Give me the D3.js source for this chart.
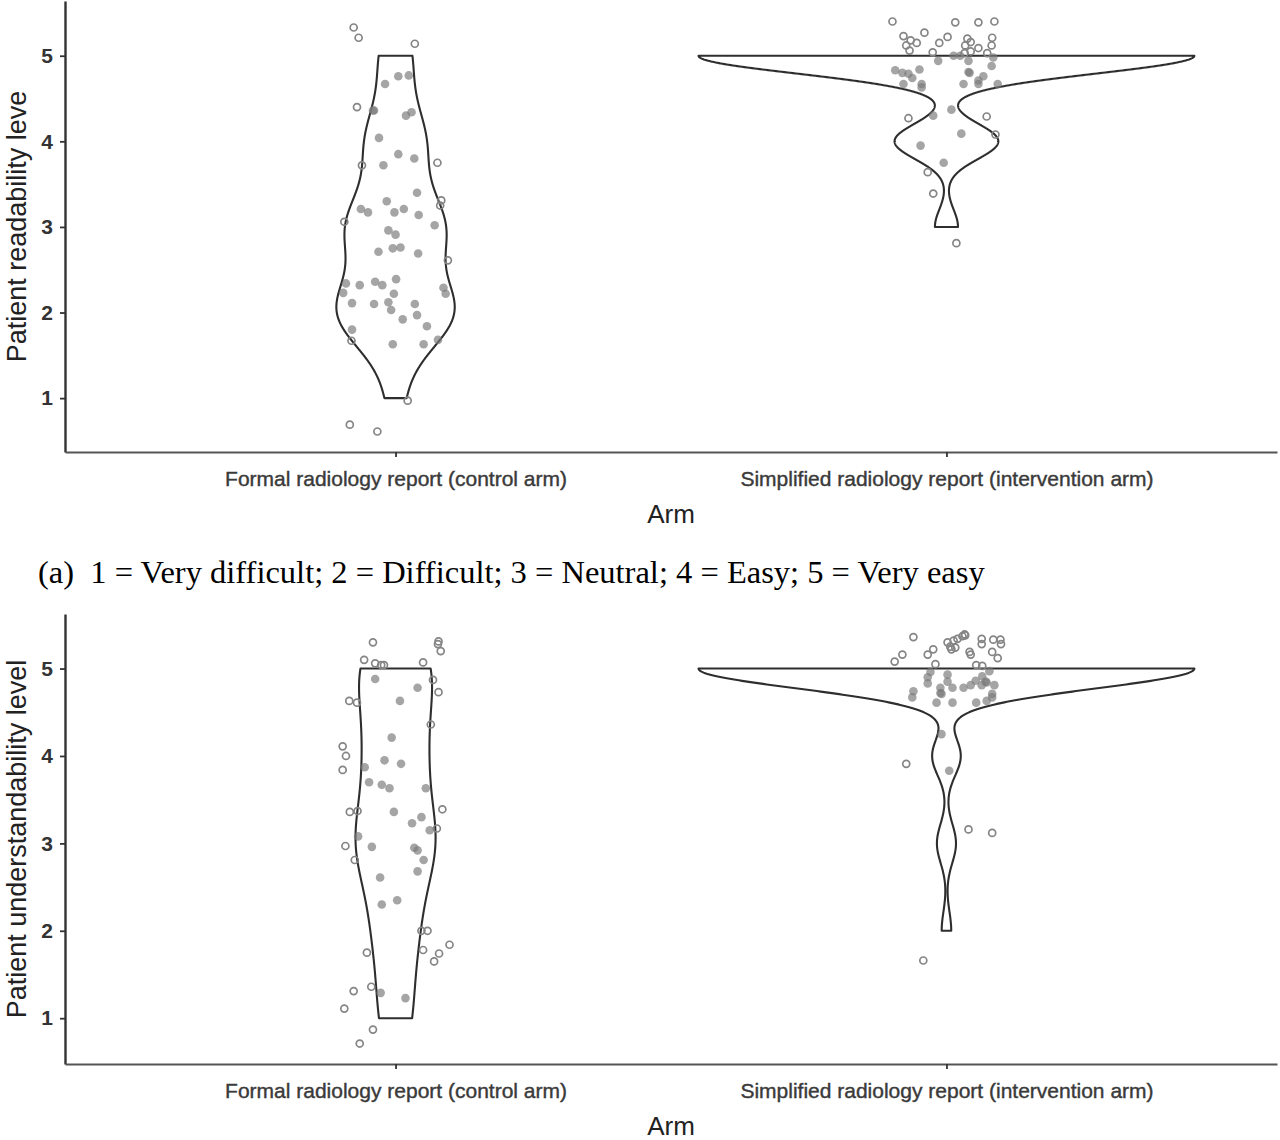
<!DOCTYPE html>
<html>
<head>
<meta charset="utf-8">
<script src="https://cdn.jsdelivr.net/npm/d3@7"></script>
<style>
  html, body { margin: 0; padding: 0; background: #fff; }
  svg { display: block; }
</style>
</head>
<body>
<svg id="chart" width="1280" height="1140"></svg>
<script>
// ---------------- DATA ----------------
const arms = ["Formal radiology report (control arm)", "Simplified radiology report (intervention arm)"];
const yTicks = [1, 2, 3, 4, 5];
const yTitles = ["Patient readability leve", "Patient understandability level"];
const xTitle = "Arm";
const caption = "(a)\u00a0\u00a01 = Very difficult; 2 = Difficult; 3 = Neutral; 4 = Easy; 5 = Very easy";

// Jittered responses (y) and their horizontal jitter (in category units).
// Panel (a) readability, formal report
const readFormalY = [5.33,5.21,5.14,4.67,4.76,4.77,4.40,4.36,4.36,4.30,4.34,4.04,3.85,3.80,3.75,3.72,3.72,3.40,3.31,3.25,3.30,3.21,3.17,3.17,3.21,3.14,3.06,3.02,2.96,2.91,2.75,2.76,2.71,2.69,2.61,2.34,2.36,2.32,2.39,2.32,2.29,2.23,2.22,2.22,2.11,2.10,2.12,2.10,2.03,1.97,1.92,1.84,1.80,1.67,1.63,1.63,1.68,0.97,0.69,0.61];
const readFormalJitter = [-0.076,-0.067,0.035,-0.019,0.005,0.024,-0.070,-0.041,-0.039,0.019,0.029,-0.030,0.005,0.034,0.076,-0.022,-0.061,0.039,0.083,0.081,-0.016,-0.063,-0.050,-0.002,0.015,0.042,-0.093,0.071,-0.013,0.000,-0.005,0.009,-0.031,0.041,0.095,-0.090,-0.037,-0.024,0.001,-0.065,0.087,-0.095,-0.003,0.091,-0.079,-0.039,-0.013,0.035,-0.008,0.039,0.013,0.057,-0.079,-0.080,-0.005,0.051,0.077,0.022,-0.083,-0.033];
// Panel (a) readability, simplified report
const readSimpY = [5.40,5.39,5.39,5.40,5.23,5.27,5.22,5.15,5.18,5.15,5.12,5.06,5.04,5.20,5.16,5.12,5.21,5.12,5.09,5.05,5.03,5.03,5.00,5.00,4.94,4.94,4.98,4.83,4.80,4.79,4.74,4.84,4.81,4.80,4.88,4.76,4.71,4.67,4.67,4.67,4.63,4.67,4.67,4.37,4.30,4.29,4.27,4.09,4.08,3.95,3.75,3.64,3.39,2.81];
const readSimpJitter = [-0.098,0.016,0.058,0.087,-0.078,-0.040,0.002,-0.013,-0.065,-0.054,-0.073,-0.067,-0.025,0.038,0.044,0.034,0.083,0.082,0.058,0.044,0.074,0.033,0.013,0.025,-0.015,0.040,0.085,-0.093,-0.080,-0.069,-0.062,-0.049,0.040,0.042,0.082,0.067,0.058,0.058,-0.078,-0.045,-0.045,0.031,0.093,0.009,-0.024,0.073,-0.069,0.027,0.089,-0.047,-0.005,-0.034,-0.024,0.018];
// Panel (b) understandability, formal report
const underFormalY = [5.30,5.31,5.28,5.20,5.10,5.06,5.04,5.04,5.07,4.88,4.78,4.87,4.73,4.63,4.61,4.63,4.36,4.21,4.11,4.00,3.95,3.91,3.87,3.84,3.70,3.67,3.63,3.63,3.39,3.36,3.37,3.36,3.30,3.23,3.17,3.15,3.08,2.97,2.96,2.95,2.92,2.81,2.81,2.68,2.61,2.30,2.35,2.00,2.00,1.84,1.75,1.78,1.74,1.65,1.36,1.31,1.29,1.23,1.11,0.87,0.71];
const underFormalJitter = [-0.041,0.078,0.077,0.082,-0.057,-0.037,-0.026,-0.021,0.050,-0.037,0.040,0.068,0.078,-0.084,-0.070,0.008,0.064,-0.007,-0.096,-0.090,-0.020,0.010,-0.056,-0.096,-0.048,-0.025,-0.011,0.055,0.085,-0.083,-0.069,-0.003,0.047,0.030,0.075,0.062,-0.068,-0.091,-0.043,0.034,0.040,-0.074,0.051,0.040,-0.028,-0.025,0.003,0.047,0.058,0.098,-0.052,0.050,0.079,0.070,-0.044,-0.076,-0.027,0.018,-0.093,-0.041,-0.065];
// Panel (b) understandability, simplified report
const underSimpY = [5.36,5.16,5.08,5.16,5.22,5.05,5.30,5.25,5.32,5.34,5.37,5.38,5.39,5.22,5.24,5.19,5.16,5.34,5.28,5.33,5.33,5.28,5.19,5.12,5.04,5.03,4.96,4.90,4.83,4.93,4.85,4.78,4.72,4.71,4.78,4.78,4.81,4.86,4.91,4.85,4.84,4.97,4.81,4.81,4.74,4.67,4.61,4.61,4.61,4.63,4.71,4.67,4.25,3.91,3.83,3.16,3.12,1.66];
const underSimpJitter = [-0.060,-0.080,-0.094,-0.034,-0.024,-0.020,0.002,0.007,0.013,0.020,0.029,0.034,0.033,0.009,0.016,0.042,0.044,0.064,0.064,0.085,0.098,0.099,0.083,0.093,0.054,0.065,-0.029,-0.034,-0.034,0.002,0.002,-0.011,-0.011,-0.009,0.011,0.031,0.044,0.053,0.065,0.071,0.073,0.078,0.064,0.087,-0.060,-0.062,-0.018,0.011,0.054,0.073,0.083,0.083,-0.009,-0.073,0.005,0.040,0.083,-0.042];

// ---------------- LAYOUT ----------------
const svg = d3.select("#chart");
const FONT = "'Liberation Sans', Arial, Helvetica, sans-serif";
const panels = [
  { title: yTitles[0], top: 1, bottom: 452, groups: [[readFormalY, readFormalJitter], [readSimpY, readSimpJitter]] },
  { title: yTitles[1], top: 614, bottom: 1064, groups: [[underFormalY, underFormalJitter], [underSimpY, underSimpJitter]] }
];
const left = 65, right = 1277;

function nrd0(v) {
  const s = d3.deviation(v);
  const sorted = v.slice().sort(d3.ascending);
  const iqr = d3.quantileSorted(sorted, 0.75) - d3.quantileSorted(sorted, 0.25);
  let lo = Math.min(s, iqr / 1.34);
  if (!lo) lo = s || Math.abs(v[0]) || 1;
  return 0.9 * lo * Math.pow(v.length, -0.2);
}
function kde(values, bw) {
  const n = values.length;
  return y => d3.sum(values, v => Math.exp(-0.5 * ((y - v) / bw) ** 2)) / (n * bw * Math.sqrt(2 * Math.PI));
}

panels.forEach(p => {
  const g = svg.append("g");
  const x = d3.scalePoint().domain(arms).range([left, right]).padding(0.6);
  const allY = p.groups.flatMap(gr => gr[0]);
  const [ymin, ymax] = d3.extent(allY);
  const ex = (ymax - ymin) * 0.05;
  const y = d3.scaleLinear().domain([ymin - ex, ymax + ex]).range([p.bottom, p.top]);

  // densities of the underlying integer responses
  const dens = p.groups.map(gr => {
    const levels = gr[0].map(Math.round);
    const bw = nrd0(levels);
    const f = kde(levels, bw);
    const [lo, hi] = d3.extent(levels);
    const grid = d3.range(0, 513).map(i => lo + (hi - lo) * i / 512);
    return { f, lo, hi, grid, vals: grid.map(f) };
  });
  const gmax = d3.max(dens, d => d3.max(d.vals));
  const halfMax = 0.45 * x.step();

  // violins
  dens.forEach((d, i) => {
    const cx = x(arms[i]);
    const area = d3.area()
      .y(v => y(v))
      .x0(v => cx - halfMax * d.f(v) / gmax)
      .x1(v => cx + halfMax * d.f(v) / gmax);
    g.append("path")
      .attr("d", area(d.grid))
      .attr("fill", "#fff")
      .attr("stroke", "#2e2e2e")
      .attr("stroke-width", 2.1)
      .attr("stroke-linejoin", "round");
  });

  // jittered points
  p.groups.forEach((gr, i) => {
    const cx = x(arms[i]);
    const d = dens[i];
    gr[0].forEach((v, k) => {
      const px = cx + gr[1][k] * x.step();
      const py = y(v);
      const hw = (v >= d.lo && v <= d.hi) ? halfMax * d.f(v) / gmax : -1;
      const inside = Math.abs(px - cx) < hw - 1;
      if (inside) {
        g.append("circle").attr("cx", px).attr("cy", py).attr("r", 4.3)
          .attr("fill", "#7a7a7a").attr("fill-opacity", 0.68);
      } else {
        g.append("circle").attr("cx", px).attr("cy", py).attr("r", 3.5)
          .attr("fill", "none").attr("stroke", "#858585").attr("stroke-width", 1.7);
      }
    });
  });

  // axes
  const ya = g.append("g").attr("transform", `translate(${left},0)`)
    .call(d3.axisLeft(y).tickValues(yTicks).tickFormat(d3.format("d")).tickSize(5).tickSizeOuter(0).tickPadding(7));
  ya.select(".domain").attr("stroke", "#333").attr("stroke-width", 2.4);
  ya.selectAll(".tick line").attr("stroke", "#333").attr("stroke-width", 1.8);
  ya.selectAll(".tick text").attr("font-family", FONT).attr("font-size", 21).attr("font-weight", "bold").attr("fill", "#333");

  const xa = g.append("g").attr("transform", `translate(0,${p.bottom})`)
    .call(d3.axisBottom(x).tickSize(5).tickSizeOuter(0).tickPadding(14));
  xa.select(".domain").attr("stroke", "#555").attr("stroke-width", 2);
  xa.selectAll(".tick line").attr("stroke", "#333").attr("stroke-width", 1.8);
  xa.selectAll(".tick text").attr("font-family", FONT).attr("font-size", 21).attr("fill", "#3a3a3a")
    .attr("stroke", "#3a3a3a").attr("stroke-width", 0.4);

  g.append("text").attr("x", (left + right) / 2).attr("y", p.bottom + 71)
    .attr("text-anchor", "middle").attr("font-family", FONT).attr("font-size", 26).attr("fill", "#222")
    .text(xTitle);
  g.append("text")
    .attr("transform", `translate(26,${(p.top + p.bottom) / 2}) rotate(-90)`)
    .attr("text-anchor", "middle").attr("font-family", FONT).attr("font-size", 27).attr("fill", "#222")
    .text(p.title);
});

svg.append("text").attr("x", 38).attr("y", 583)
  .attr("font-family", "'Liberation Serif', 'Times New Roman', serif").attr("font-size", 32.5).attr("fill", "#000")
  .text(caption);
</script>
</body>
</html>
